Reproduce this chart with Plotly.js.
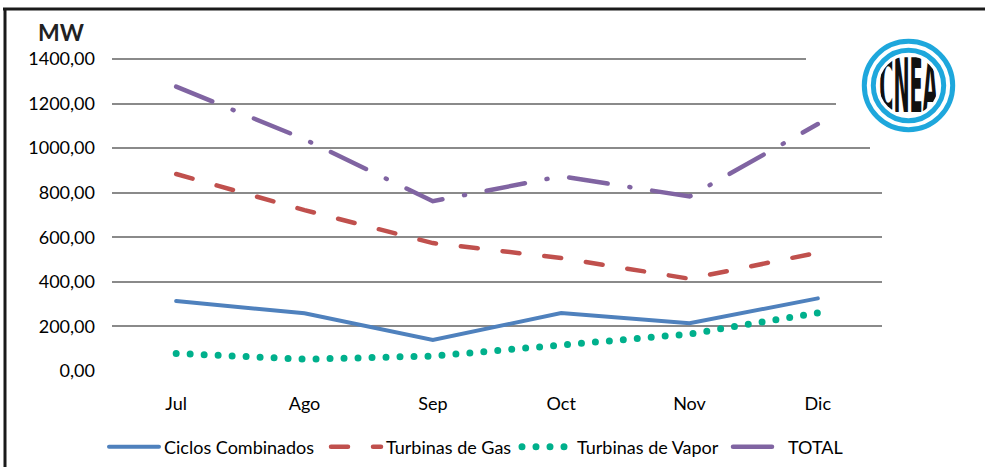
<!DOCTYPE html>
<html><head><meta charset="utf-8">
<script src="https://cdn.plot.ly/plotly-3.0.1.min.js"></script>
<style>
html,body{margin:0;padding:0;background:#fff;}
#wrap{position:relative;width:985px;height:467px;overflow:hidden;}
#chart{position:absolute;left:0;top:0;width:985px;height:467px;}
#overlay{position:absolute;left:0;top:0;pointer-events:none;}
path.js-line{stroke-linecap:round;}
</style></head><body>
<div id="wrap"><div id="chart"></div>
<svg id="overlay" width="985" height="467" xmlns="http://www.w3.org/2000/svg">
  <defs><clipPath id="inner"><circle cx="908.5" cy="85.5" r="29.5"/></clipPath></defs>
  <polygon points="806,50 978,50 978,158 870,158 870,125 836,112 836,95 806,68" fill="#fff"/>
  <line x1="3" y1="9" x2="985" y2="9" stroke="#1a1a1a" stroke-width="3"/>
  <line x1="5" y1="8" x2="5" y2="467" stroke="#1a1a1a" stroke-width="3"/>
  <circle cx="908.5" cy="85.5" r="44.2" fill="none" stroke="#1ea7dc" stroke-width="5"/>
  <circle cx="908.5" cy="85.5" r="35.2" fill="none" stroke="#1ea7dc" stroke-width="5"/>
  <g clip-path="url(#inner)">
    <text transform="translate(908.5,112) scale(0.29,1)" text-anchor="middle" font-family="DejaVu Sans Condensed, DejaVu Sans" font-weight="bold" font-size="74" fill="#111">CNEA</text>
  </g>
</svg></div>
<script>
const months = ['Jul', 'Ago', 'Sep', 'Oct', 'Nov', 'Dic'];
const ciclosCombinados = [314, 259, 139, 260, 214, 326];
const turbinasGas = [884, 722, 574, 507, 414, 531];
const turbinasVapor = [79, 53, 67, 117, 166, 261];
const total = [1276, 1040, 762, 874, 783, 1108];
const yTicks = [0, 200, 400, 600, 800, 1000, 1200, 1400];
const seriesNames = ['Ciclos Combinados', 'Turbinas de Gas', 'Turbinas de Vapor', 'TOTAL'];

const W = 985, H = 467, L = 112, R = 103, T = 56, B = 96;
const pw = W - L - R, ph = H - T - B;
const yMax = 1413.5;
const px = x => (x - L) / pw;
const py = y => (H - B - y) / ph;

const font = {family: 'Lato, "Open Sans", sans-serif', size: 18, color: '#000'};

const traces = [
  {x: months, y: ciclosCombinados, name: seriesNames[0], legend: 'legend',
   line: {color: '#4f81bd', width: 4}},
  {x: months, y: turbinasGas, name: seriesNames[1], legend: 'legend2',
   line: {color: '#c0504d', width: 4.5, dash: '17px,25px'}},
  {x: months, y: turbinasVapor, name: seriesNames[2], legend: 'legend3',
   line: {color: '#00b08c', width: 7, dash: '0px,14px'}},
  {x: months, y: total, name: seriesNames[3], legend: 'legend4',
   line: {color: '#8064a2', width: 4.5, dash: '39px,22px,1px,22px'}}
].map(t => Object.assign({type: 'scatter', mode: 'lines', hoverinfo: 'skip'}, t));

function leg(xpix) {
  return {orientation: 'h', xref: 'container', yref: 'container',
          x: xpix / W, xanchor: 'left', y: (H - 447) / H, yanchor: 'middle',
          itemwidth: 50,
          font: font, bgcolor: 'rgba(0,0,0,0)', borderwidth: 0};
}

const layout = {
  width: W, height: H,
  margin: {l: L, r: R, t: T, b: B, pad: 0, autoexpand: false},
  paper_bgcolor: '#fff', plot_bgcolor: '#fff',
  font: font,
  separators: ',.',
  showlegend: true,
  legend: leg(104), legend2: leg(326), legend3: leg(517), legend4: leg(728),
  xaxis: {type: 'category', range: [-0.5, 5.5], showgrid: false, zeroline: false,
          showline: false, ticks: '', ticklabelstandoff: 20, tickfont: font, fixedrange: true,
          automargin: false},
  yaxis: {range: [0, yMax], tickvals: yTicks, tickformat: '.2f', showgrid: true,
          gridcolor: '#8a8a8a', gridwidth: 2, zeroline: false, showline: false, ticks: '',
          ticklabelstandoff: 16, tickfont: font, fixedrange: true, automargin: false},
  annotations: [{text: '<b>MW</b>', xref: 'paper', yref: 'paper', x: px(61), y: py(32),
                 xanchor: 'center', yanchor: 'middle', showarrow: false,
                 font: {family: font.family, size: 23, color: '#222'}}]
};

Plotly.newPlot('chart', traces, layout, {staticPlot: true, displayModeBar: false});
</script>
</body></html>
